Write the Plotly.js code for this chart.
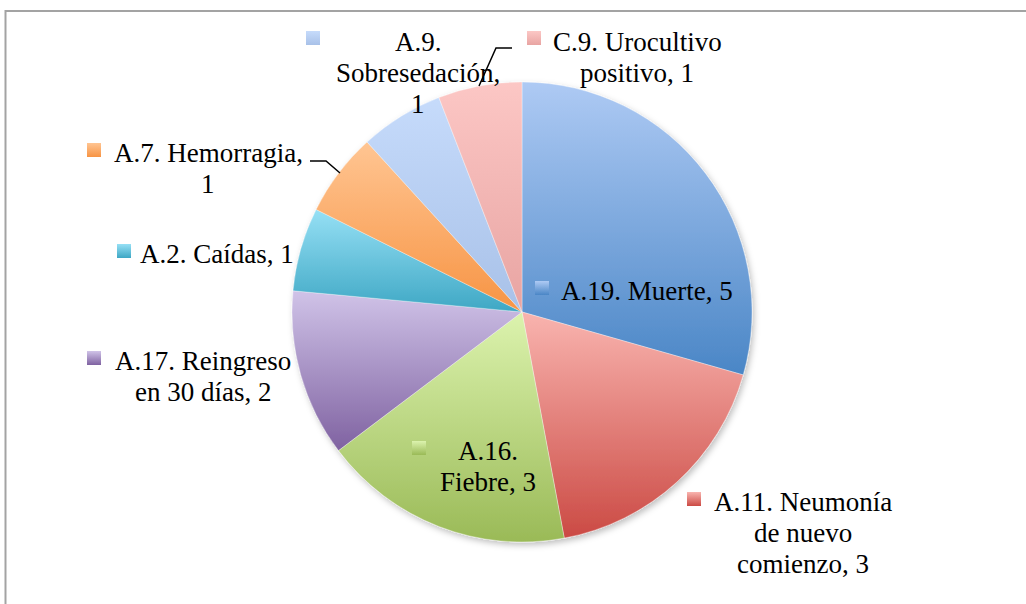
<!DOCTYPE html>
<html>
<head>
<meta charset="utf-8">
<script src="https://cdn.plot.ly/plotly-3.0.1.min.js"></script>
<style>
html,body{margin:0;padding:0;background:#fff;}
#chart{width:1026px;height:604px;}
</style>
</head>
<body>
<div id="chart"></div>
<script>
// ---- data ----
const categories = [
  'A.19. Muerte',
  'A.11. Neumonía de nuevo comienzo',
  'A.16. Fiebre',
  'A.17. Reingreso en 30 días',
  'A.2. Caídas',
  'A.7. Hemorragia',
  'A.9. Sobresedación',
  'C.9. Urocultivo positivo'
];
const values = [5, 3, 3, 2, 1, 1, 1, 1];

// ---- style / layout ----
const gradTop    = ['#aecaf4', '#f9b4af', '#dcf3ae', '#d0c3e8', '#96e0f5', '#ffc592', '#c6dbfb', '#fcc7c5'];
const gradBottom = ['#4a86c6', '#cb4a44', '#9aba57', '#7f62a1', '#3ea7c4', '#f79444', '#a8c1e8', '#e8a4a2'];
const wordsPerLine = [[3], [2, 2, 2], [1, 2], [2, 4], [3], [2, 1], [1, 1, 1], [2, 2]];
// key: left/top pixel; text: centre x, centre y of first line (pixels)
const labelPos = [
  {kx: 535, ky: 281, tx: 647, ty: 291},
  {kx: 687, ky: 492, tx: 803, ty: 502},
  {kx: 412, ky: 441, tx: 488, ty: 451},
  {kx: 87,  ky: 351, tx: 203, ty: 361},
  {kx: 117, ky: 244, tx: 217, ty: 254},
  {kx: 87,  ky: 143, tx: 208, ty: 153},
  {kx: 306, ky: 31,  tx: 418, ty: 42},
  {kx: 527, ky: 31,  tx: 637, ty: 42}
];
const lineGap = 31;
const keySize = 14;
const W = 1026, H = 604;
const px = x => x / W;
const py = y => 1 - y / H;
const FONT = {family: '"Liberation Serif", "Times New Roman", serif', size: 27, color: '#000'};

const annotations = [];
const shapes = [];
categories.forEach((cat, i) => {
  const words = `${cat}, ${values[i]}`.split(' ');
  let k = 0;
  const lines = wordsPerLine[i].map(n => { const l = words.slice(k, k + n).join(' '); k += n; return l; });
  const p = labelPos[i];
  lines.forEach((ln, j) => {
    annotations.push({
      xref: 'paper', yref: 'paper', x: px(p.tx), y: py(p.ty + j * lineGap),
      xanchor: 'center', yanchor: 'middle', text: ln, showarrow: false, font: FONT
    });
  });
  shapes.push({
    type: 'rect', xref: 'paper', yref: 'paper',
    x0: px(p.kx), x1: px(p.kx + keySize), y0: py(p.ky + keySize), y1: py(p.ky),
    fillcolor: gradBottom[i], line: {width: 0}
  });
});

// leader lines
const leaders = [
  [[479, 86], [496, 48], [512, 48]],
  [[340, 173], [326, 161], [310, 161]]
];
leaders.forEach(pts => {
  const d = pts.map((q, j) => (j ? 'L' : 'M') + px(q[0]) + ',' + py(q[1])).join(' ');
  shapes.push({type: 'path', xref: 'paper', yref: 'paper', path: d, line: {color: '#000', width: 1.5}});
});
// chart frame
shapes.push({type: 'line', xref: 'paper', yref: 'paper', x0: px(5), x1: 1, y0: py(11), y1: py(11), line: {color: '#a3a3a3', width: 2}});
shapes.push({type: 'line', xref: 'paper', yref: 'paper', x0: px(5.5), x1: px(5.5), y0: py(10), y1: 0, line: {color: '#a3a3a3', width: 2}});

const cx = 522, cy = 312, r = 230;
const trace = {
  type: 'pie',
  labels: categories,
  values: values,
  sort: false,
  direction: 'clockwise',
  rotation: 0,
  textinfo: 'none',
  hoverinfo: 'none',
  showlegend: false,
  marker: {colors: gradBottom, line: {color: 'rgba(255,255,255,0.45)', width: 0.75}},
  domain: {x: [px(cx - r), px(cx + r)], y: [py(cy + r), py(cy - r)]}
};

const layout = {
  width: W, height: H,
  margin: {l: 0, r: 0, t: 0, b: 0},
  paper_bgcolor: '#fff',
  showlegend: false,
  annotations: annotations,
  shapes: shapes
};

Plotly.newPlot('chart', [trace], layout, {displayModeBar: false, staticPlot: true}).then(gd => {
  const svgNS = 'http://www.w3.org/2000/svg';
  const svg = gd.querySelector('svg.main-svg');
  let defs = svg.querySelector('defs');
  if (!defs) { defs = document.createElementNS(svgNS, 'defs'); svg.insertBefore(defs, svg.firstChild); }
  categories.forEach((c, i) => {
    const g = document.createElementNS(svgNS, 'linearGradient');
    g.setAttribute('id', 'pg' + i);
    g.setAttribute('x1', '0'); g.setAttribute('y1', '0');
    g.setAttribute('x2', '0'); g.setAttribute('y2', '1');
    const s1 = document.createElementNS(svgNS, 'stop');
    s1.setAttribute('offset', '0'); s1.setAttribute('stop-color', gradTop[i]);
    const s2 = document.createElementNS(svgNS, 'stop');
    s2.setAttribute('offset', '1'); s2.setAttribute('stop-color', gradBottom[i]);
    g.appendChild(s1); g.appendChild(s2);
    defs.appendChild(g);
  });
  // drop shadow for pie
  const f = document.createElementNS(svgNS, 'filter');
  f.setAttribute('id', 'pieShadow');
  f.setAttribute('x', '-10%'); f.setAttribute('y', '-10%'); f.setAttribute('width', '120%'); f.setAttribute('height', '120%');
  f.innerHTML = '<feDropShadow dx="2" dy="3" stdDeviation="3" flood-color="#000" flood-opacity="0.25"/>';
  defs.appendChild(f);
  const slices = gd.querySelectorAll('g.slice path.surface');
  slices.forEach((p, i) => { p.style.fill = 'url(#pg' + i + ')'; });
  const pieG = gd.querySelector('g.trace');
  if (pieG) pieG.setAttribute('filter', 'url(#pieShadow)');
  const shapePaths = gd.querySelectorAll('.shapelayer path');
  shapePaths.forEach((p, i) => { if (i < categories.length) p.style.fill = 'url(#pg' + i + ')'; });
});
</script>
</body>
</html>
